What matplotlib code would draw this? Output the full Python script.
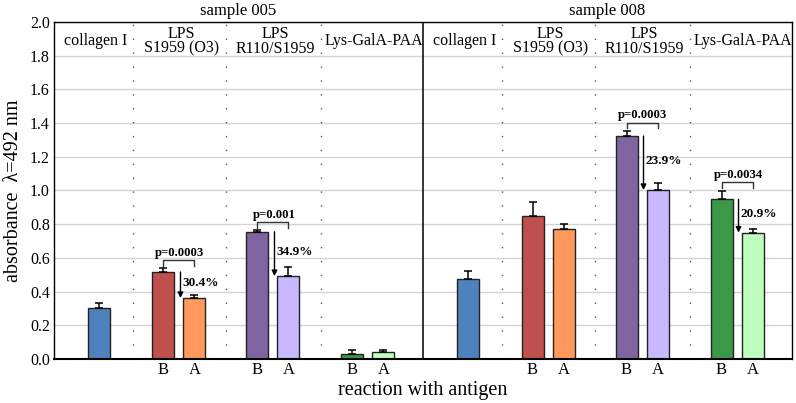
import numpy as np
import matplotlib
matplotlib.use('Agg')
import matplotlib.pyplot as plt

plt.rcParams['font.family'] = ['Liberation Serif', 'DejaVu Serif']

# data
samples = ['sample 005', 'sample 008']
antigens = ['collagen I', 'LPS\nS1959 (O3)', 'LPS\nR110/S1959', 'Lys-GalA-PAA']
collagen_vals = [0.300, 0.473]
collagen_errs = [0.035, 0.047]
# before (B) / after (A) for the three paired antigens, per sample
before_vals = [[0.516, 0.755, 0.032], [0.851, 1.323, 0.948]]
before_errs = [[0.022, 0.008, 0.023], [0.080, 0.030, 0.050]]
after_vals = [[0.362, 0.492, 0.042], [0.770, 1.003, 0.750]]
after_errs = [[0.018, 0.052, 0.010], [0.033, 0.040, 0.023]]
# annotations: (sample, antigen index, p-value, percent drop)
annotations = [(0, 0, 'p=0.0003', '30.4%'), (0, 1, 'p=0.001', '34.9%'),
               (1, 1, 'p=0.0003', '23.9%'), (1, 2, 'p=0.0034', '20.9%')]

collagen_color = '#4F81BD'
before_colors = ['#C0504D', '#8064A2', '#3C9848']
after_colors = ['#FF9A5C', '#C8B8FF', '#BEFFBE']

# layout (x in pixel-like units across the plot)
panel_w = 369
sep_offsets = [79, 172, 267]
group_centers = [45, 125, 219, 314]
pair_gap = 31
bar_w = 22

fig = plt.figure(figsize=(7.96, 4.03), dpi=100)
ax = fig.add_axes([0.0678, 0.1092, 0.9272, 0.8362])
ax.set_xlim(0, 2 * panel_w)
ax.set_ylim(0, 2.0)

ax.set_yticks(np.arange(0, 2.01, 0.2))
ax.set_yticklabels([f'{v:.1f}' for v in np.arange(0, 2.01, 0.2)], fontsize=11.5)
ax.yaxis.grid(True, color='#d4d4d4', lw=1)
ax.set_axisbelow(True)
ax.tick_params(axis='y', length=0, pad=3)
ax.tick_params(axis='x', length=0, pad=2, labelsize=12)

err_kw = dict(ecolor='black', capsize=3, elinewidth=1.1, capthick=1.1)
xticks, xlabels = [], []
for s in range(2):
    off = s * panel_w
    # separators
    for so in sep_offsets:
        ax.axvline(off + so, color='#555555', lw=1, ls=(0, (1, 9)), zorder=1)
    if s == 1:
        ax.axvline(off, color='black', lw=1.1, zorder=3)
    # title
    ax.text(off + panel_w / 2, 1.008, samples[s], transform=ax.get_xaxis_transform(),
            ha='center', va='bottom', fontsize=12)
    # antigen labels
    edges = [0] + sep_offsets + [panel_w]
    for g, name in enumerate(antigens):
        ax.text(off + (edges[g] + edges[g + 1]) / 2 + 2, 1.885, name,
                ha='center', va='center', fontsize=11.5, linespacing=0.9)
    # collagen bar
    ax.bar(off + group_centers[0], collagen_vals[s], width=bar_w, color=collagen_color,
           edgecolor='#222222', lw=1, yerr=[[0], [collagen_errs[s]]], error_kw=err_kw, zorder=2)
    # paired bars
    for i in range(3):
        c = off + group_centers[i + 1]
        xb, xa = c - pair_gap / 2, c + pair_gap / 2
        ax.bar(xb, before_vals[s][i], width=bar_w, color=before_colors[i], edgecolor='#222222',
               lw=1, yerr=[[0], [before_errs[s][i]]], error_kw=err_kw, zorder=2)
        ax.bar(xa, after_vals[s][i], width=bar_w, color=after_colors[i], edgecolor='#222222',
               lw=1, yerr=[[0], [after_errs[s][i]]], error_kw=err_kw, zorder=2)
        xticks += [xb, xa]
        xlabels += ['B', 'A']

# p-value brackets and drop arrows
for s, i, ptxt, pct in annotations:
    c = s * panel_w + group_centers[i + 1]
    xb, xa = c - pair_gap / 2, c + pair_gap / 2
    b, a = before_vals[s][i], after_vals[s][i]
    top = max(b + before_errs[s][i], a + after_errs[s][i]) + 0.05
    ax.plot([xb, xb, xa, xa], [top - 0.035, top, top, top - 0.035], color='#333333', lw=1, zorder=4)
    ax.text(c + 1, top + 0.043, ptxt, ha='center', va='center', fontsize=9.2, fontweight='bold')
    xarr = xa - bar_w / 2 - 3
    ax.annotate('', xy=(xarr, a), xytext=(xarr, b),
                arrowprops=dict(arrowstyle='-|>', color='black', lw=1, mutation_scale=8,
                                shrinkA=0, shrinkB=0), zorder=4)
    ax.text(xarr + 2, (a + b) / 2 + 0.01, pct, ha='left', va='center', fontsize=9.5, fontweight='bold')

ax.set_xticks(xticks)
ax.set_xticklabels(xlabels)

for sp in ax.spines.values():
    sp.set_color('black')
    sp.set_linewidth(1)
ax.spines['bottom'].set_linewidth(1.5)

ax.set_ylabel('absorbance  λ=492 nm', fontsize=14.5, labelpad=5)
ax.set_xlabel('reaction with antigen', fontsize=14.5, labelpad=2)

fig.savefig('out.png', dpi=100)
